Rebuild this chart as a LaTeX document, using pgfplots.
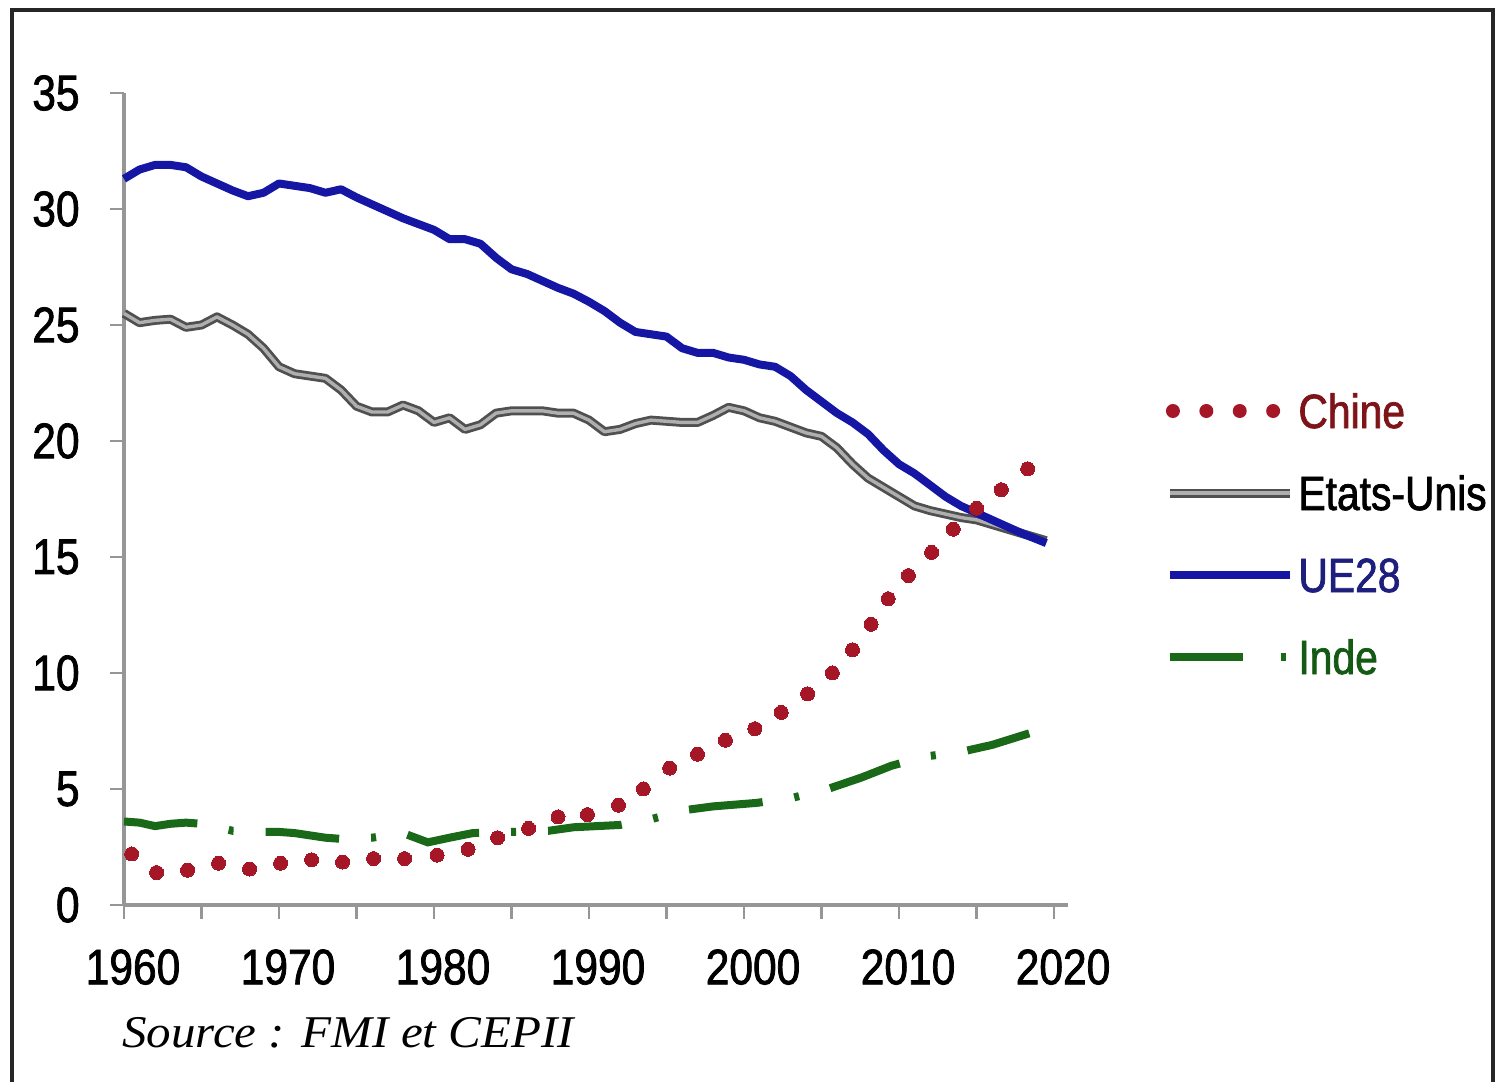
\documentclass[border=0pt]{standalone}
\usepackage{fontspec}
\setmainfont{Liberation Sans}[FakeStretch=0.85, FakeBold=1.5]
\newfontfamily\srcfont{Liberation Serif}[FakeStretch=1.08]
\usepackage{pgfplots}
\pgfplotsset{compat=1.18}

\definecolor{chine}{RGB}{165,22,38}
\definecolor{chinetxt}{RGB}{125,20,25}
\definecolor{usa}{RGB}{80,80,80}
\definecolor{usain}{RGB}{175,175,175}
\definecolor{ue}{RGB}{22,22,165}
\definecolor{uetxt}{RGB}{30,30,125}
\definecolor{inde}{RGB}{25,105,25}
\definecolor{indetxt}{RGB}{20,90,20}
\definecolor{axgray}{RGB}{150,150,150}

\tikzset{
  usline/.style={draw=usa, double=usain, double distance=1.7pt, line width=1.4pt, line join=round},
  ueline/.style={ue, line width=4pt, line join=round},
}

\begin{document}
\begin{tikzpicture}
\useasboundingbox (0,0) rectangle (747.5pt,541pt);
\draw[line width=2pt, black!85] (6pt,-5pt) rectangle (746.5pt,536pt);
\begin{axis}[
    at={(62pt,88.5pt)}, anchor=south west,
    scale only axis, width=472pt, height=406pt,
    xmin=1960, xmax=2020.9, ymin=0, ymax=35,
    clip=false,
    axis lines=left,
    axis line style={axgray, line width=1.6pt, -},
    tick style={axgray, line width=1.4pt},
    tick align=outside, major tick length=7pt,
    xtick={1960,1965,...,2020},
    xticklabels={1960,,1970,,1980,,1990,,2000,,2010,,2020},
    ytick={0,5,...,35},
    yticklabels={0,5,10,15,20,25,30,35},
    xticklabel style={font=\fontsize{25}{25}\selectfont, anchor=north, inner sep=0pt, yshift=-15pt, xshift=4.5pt},
    yticklabel style={font=\fontsize{25}{25}\selectfont, anchor=east, inner sep=0pt, xshift=-15pt},
    legend cell align=left,
    legend style={at={(1.1028,0.4569)}, anchor=west, draw=none, fill=none,
        inner sep=0pt, row sep=24pt, column sep=2pt,
        font=\fontsize{24}{24}\selectfont,
        nodes={inner sep=0pt, text height=17pt, text depth=0pt, anchor=west}},
]

% Chine
\addplot[only marks, mark=*, mark size=3.5pt, mark options={fill=chine, draw=chine, line width=0pt},
    legend image code/.code={\draw[chine, line width=7pt, line cap=round, dash pattern=on 0pt off 16.7pt] (1.5pt,0pt) -- (55pt,0pt);}]
coordinates {
    (1960.5,2.2) (1962.1,1.4) (1964.1,1.5) (1966.1,1.8) (1968.1,1.55)
    (1970.1,1.8) (1972.1,1.95) (1974.1,1.85) (1976.1,2.0) (1978.1,2.0)
    (1980.2,2.15) (1982.2,2.4) (1984.1,2.9) (1986.1,3.3) (1988.0,3.8)
    (1989.9,3.9) (1991.9,4.3) (1993.5,5.0) (1995.2,5.9) (1997.0,6.5)
    (1998.8,7.1) (2000.7,7.6) (2002.4,8.3) (2004.1,9.1) (2005.7,10.0)
    (2007.0,11.0) (2008.2,12.1) (2009.3,13.2) (2010.6,14.2) (2012.1,15.2)
    (2013.5,16.2) (2015.0,17.1) (2016.6,17.9) (2018.3,18.8)
};
\addlegendentry{\textcolor{chinetxt}{Chine}}

% Etats-Unis
\addplot[usline, legend image code/.code={\draw[usline] (0pt,0pt) -- (60pt,0pt);}]
coordinates {
    (1960,25.5) (1961,25.1) (1962,25.2) (1963,25.25) (1964,24.9) (1965,25.0)
    (1966,25.35) (1967,25.0) (1968,24.6) (1969,24.0) (1970,23.2) (1971,22.9)
    (1972,22.8) (1973,22.7) (1974,22.2) (1975,21.5) (1976,21.25) (1977,21.25)
    (1978,21.55) (1979,21.3) (1980,20.8) (1981,21.0) (1982,20.5) (1983,20.7)
    (1984,21.2) (1985,21.3) (1986,21.3) (1987,21.3) (1988,21.2) (1989,21.2)
    (1990,20.9) (1991,20.4) (1992,20.5) (1993,20.75) (1994,20.9) (1995,20.85)
    (1996,20.8) (1997,20.8) (1998,21.1) (1999,21.45) (2000,21.3) (2001,21.0)
    (2002,20.85) (2003,20.6) (2004,20.35) (2005,20.2) (2006,19.7) (2007,19.0)
    (2008,18.4) (2009,18.0) (2010,17.6) (2011,17.2) (2012,17.0) (2013,16.85)
    (2014,16.7) (2015,16.6) (2016,16.4) (2017,16.2) (2018,16.0) (2019.5,15.7)
};
\addlegendentry{Etats-Unis}

% UE28
\addplot[ueline, legend image code/.code={\draw[ueline] (0pt,0pt) -- (60pt,0pt);}]
coordinates {
    (1960,31.3) (1961,31.7) (1962,31.9) (1963,31.9) (1964,31.8) (1965,31.4)
    (1966,31.1) (1967,30.8) (1968,30.55) (1969,30.7) (1970,31.1) (1971,31.0)
    (1972,30.9) (1973,30.7) (1974,30.85) (1975,30.5) (1976,30.2) (1977,29.9)
    (1978,29.6) (1979,29.35) (1980,29.1) (1981,28.7) (1982,28.7) (1983,28.5)
    (1984,27.9) (1985,27.4) (1986,27.2) (1987,26.9) (1988,26.6) (1989,26.35)
    (1990,26.0) (1991,25.6) (1992,25.1) (1993,24.7) (1994,24.6) (1995,24.5)
    (1996,24.0) (1997,23.8) (1998,23.8) (1999,23.6) (2000,23.5) (2001,23.3)
    (2002,23.2) (2003,22.8) (2004,22.2) (2005,21.7) (2006,21.2) (2007,20.8)
    (2008,20.3) (2009,19.6) (2010,19.0) (2011,18.6) (2012,18.1) (2013,17.6)
    (2014,17.2) (2015,16.9) (2016,16.6) (2017,16.3) (2018,16.0) (2019.5,15.6)
};
\addlegendentry{\textcolor{uetxt}{UE28}}

% Inde
\addplot[inde, line width=4pt, dash pattern=on 37pt off 16pt on 2.5pt off 16pt,
    legend image code/.code={\draw[inde, line width=4pt, dash pattern=on 36.5pt off 19pt on 2.5pt off 20pt] (0pt,0pt) -- (60pt,0pt);}]
coordinates {
    (1960,3.6) (1961,3.55) (1962,3.4) (1963,3.5) (1964,3.55) (1965,3.5)
    (1967,3.2) (1969,3.15) (1970,3.15) (1971,3.1) (1972,3.0) (1973,2.9)
    (1974,2.85) (1976,2.9) (1978,3.1) (1979.6,2.7) (1981,2.9) (1982.5,3.1)
    (1985,3.15) (1987.4,3.2) (1989,3.35) (1992,3.45) (1994,3.7) (1996.3,4.1)
    (1998,4.25) (2000.8,4.4) (2003,4.6) (2005.4,5.0) (2007.6,5.5) (2009.5,6.0)
    (2011.7,6.4) (2014,6.6) (2016,6.9) (2018.4,7.4)
};
\addlegendentry{\textcolor{indetxt}{Inde}}

\end{axis}
\node[anchor=base west, inner sep=0pt, font=\srcfont\itshape\fontsize{22.7}{22.7}\selectfont] at (61pt,17pt) {Source : FMI et CEPII};
\end{tikzpicture}
\end{document}
